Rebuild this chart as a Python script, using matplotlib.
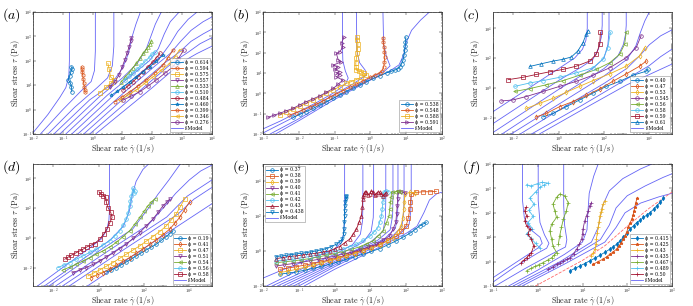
import numpy as np
import matplotlib
matplotlib.use("Agg")
import matplotlib.pyplot as plt
from matplotlib.ticker import LogLocator, NullFormatter, FixedLocator, FuncFormatter

plt.rcParams['mathtext.fontset'] = 'cm'
plt.rcParams['font.family'] = ['DejaVu Serif']

BL, OR, YE, PU, GR, CY, RE = '#0072BD', '#D95319', '#EDB120', '#7E2F8E', '#77AC30', '#4DBEEE', '#A2142F'
MODEL_COLOR = '#6464F6'

# ---------------- panel (a) ----------------
A_PHI = ['0.614', '0.594', '0.575', '0.557', '0.533', '0.510', '0.484', '0.460', '0.399', '0.346', '0.276']
A_COL = [BL, OR, YE, PU, GR, CY, RE, BL, OR, YE, PU]
A_MRK = ['o', 'h', 's', 'v', '^', 'o', 'o', '*', 'p', '<', 'o']
A_DATA = [
    [(-0.70, 0.73), (-0.71, 0.93), (-0.75, 1.10), (-0.82, 1.23), (-0.77, 1.37), (-0.73, 1.55), (-0.69, 1.68), (-0.71, 1.75)],
    [(-0.25, 0.72), (-0.27, 0.82), (-0.28, 0.91), (-0.30, 1.10), (-0.32, 1.26), (-0.33, 1.41), (-0.35, 1.56), (-0.36, 1.68), (-0.37, 1.75)],
    [(0.26, 0.70), (0.44, 0.91), (0.63, 1.10), (0.70, 1.23), (0.60, 1.34), (0.55, 1.68), (0.51, 1.89)],
    [(0.57, 0.91), (0.74, 1.14), (0.88, 1.41), (0.99, 1.75), (1.07, 2.02), (1.15, 2.30), (1.22, 2.57), (1.27, 2.81), (1.30, 2.95)],
    [(0.96, 1.14), (1.10, 1.35), (1.24, 1.55), (1.35, 1.72), (1.46, 1.89), (1.58, 2.10), (1.69, 2.30), (1.78, 2.45), (1.85, 2.57), (1.92, 2.70), (1.97, 2.81)],
    [(1.07, 1.21), (1.21, 1.36), (1.35, 1.51), (1.49, 1.66), (1.63, 1.82), (1.77, 1.99), (1.91, 2.16), (2.00, 2.27), (2.08, 2.37)],
    [(1.02, 0.80), (1.19, 0.97), (1.35, 1.14), (1.52, 1.35), (1.69, 1.55), (1.85, 1.75), (2.02, 1.96), (2.14, 2.13), (2.25, 2.30)],
    [(0.63, 0.59), (0.83, 0.76), (1.02, 0.93), (1.24, 1.13), (1.46, 1.34), (1.68, 1.55), (1.91, 1.75), (2.13, 1.99), (2.36, 2.23)],
    [(0.74, 0.32), (0.99, 0.52), (1.24, 0.73), (1.52, 0.97), (1.80, 1.21), (2.08, 1.50), (2.36, 1.82), (2.52, 2.12), (2.69, 2.43)],
    [(0.91, 0.39), (1.18, 0.59), (1.46, 0.80), (1.74, 1.07), (2.02, 1.34), (2.30, 1.61), (2.58, 1.89), (2.75, 2.17), (2.92, 2.46)],
    [(1.02, 0.39), (1.30, 0.56), (1.58, 0.73), (1.86, 0.97), (2.13, 1.21), (2.41, 1.48), (2.69, 1.75), (2.87, 2.09), (3.05, 2.43)],
]
A_MODEL = [
    [(-2.0, -0.95), (-1.5, -0.2), (-1.1, 0.5), (-0.9, 0.9), (-0.8, 1.35), (-0.78, 2.0), (-0.78, 4.0)],
    [(-1.75, -1.0), (-1.0, 0.0), (-0.4, 0.75), (-0.05, 1.15), (0.06, 1.6), (0.09, 2.4), (0.09, 4.0)],
    [(-1.5, -1.0), (-0.6, 0.1), (0.15, 0.9), (0.5, 1.3), (0.66, 1.8), (0.71, 2.6), (0.71, 4.0)],
    [(-1.3, -1.0), (-0.1, 0.4), (0.6, 1.0), (1.0, 1.7), (1.2, 2.3), (1.3, 2.9), (1.45, 3.5), (1.6, 4.0)],
    [(-1.1, -1.0), (0.2, 0.5), (1.0, 1.3), (1.5, 1.9), (1.8, 2.5), (1.95, 3.0), (2.1, 3.5), (2.3, 4.0)],
    [(-0.9, -1.0), (0.5, 0.6), (1.4, 1.5), (1.9, 2.0), (2.2, 2.5), (2.4, 3.1), (2.6, 3.6), (2.9, 4.0)],
    [(-0.7, -1.0), (0.8, 0.7), (1.8, 1.7), (2.3, 2.2), (2.6, 2.7), (2.85, 3.2), (3.2, 3.7), (3.5, 4.0)],
    [(-0.5, -1.0), (1.1, 0.75), (2.1, 1.8), (2.6, 2.3), (2.95, 2.8), (3.3, 3.25), (3.7, 3.6), (4.0, 3.8)],
    [(-0.3, -1.0), (1.4, 0.85), (2.4, 1.9), (2.9, 2.35), (3.3, 2.8), (3.7, 3.1), (4.0, 3.3)],
    [(-0.1, -1.0), (1.7, 0.9), (2.7, 1.95), (3.2, 2.35), (3.6, 2.7), (4.0, 2.95)],
    [(0.1, -1.0), (2.0, 0.9), (3.0, 1.95), (3.5, 2.3), (4.0, 2.6)],
]

# ---------------- panel (b) ----------------
B_PHI = ['0.538', '0.548', '0.588', '0.591']
B_COL = [BL, OR, YE, PU]
B_MRK = ['o', 'h', 's', '>']
B_DATA = [
    [(-2.16, -1.18), (-1.98, -1.04), (-1.79, -0.90), (-1.60, -0.74), (-1.42, -0.58), (-1.23, -0.41), (-1.04, -0.25), (-0.86, -0.09),
     (-0.67, 0.08), (-0.49, 0.24), (-0.30, 0.41), (-0.12, 0.57), (0.07, 0.73), (0.26, 0.87), (0.45, 1.01), (0.58, 1.08), (0.68, 1.14),
     (0.76, 1.21), (0.82, 1.30), (0.87, 1.45), (0.91, 1.63), (0.94, 1.88), (0.96, 2.12), (0.97, 2.33), (0.98, 2.53), (0.99, 2.77)],
    [(-2.26, -1.07), (-2.07, -0.95), (-1.88, -0.82), (-1.70, -0.68), (-1.51, -0.53), (-1.32, -0.37), (-1.14, -0.20), (-0.95, -0.03),
     (-0.77, 0.13), (-0.58, 0.29), (-0.39, 0.45), (-0.20, 0.62), (-0.02, 0.78), (0.12, 0.90), (0.26, 1.01), (0.33, 1.12), (0.37, 1.30),
     (0.39, 1.55), (0.40, 1.79), (0.39, 2.05), (0.38, 2.28), (0.36, 2.52), (0.35, 2.74)],
    [(-2.53, -1.07), (-2.35, -0.93), (-2.16, -0.79), (-1.98, -0.64), (-1.79, -0.49), (-1.60, -0.33), (-1.42, -0.17), (-1.23, 0.0),
     (-1.04, 0.16), (-0.86, 0.33), (-0.67, 0.49), (-0.53, 0.58), (-0.39, 0.68), (-0.25, 0.79), (-0.11, 0.90), (-0.18, 0.98), (-0.25, 1.06),
     (-0.33, 1.10), (-0.39, 1.14), (-0.40, 1.30), (-0.41, 1.47), (-0.39, 1.72), (-0.37, 1.96), (-0.36, 2.2), (-0.35, 2.45), (-0.37, 2.60), (-0.37, 2.77)],
    [(-2.86, -1.18), (-2.70, -1.08), (-2.53, -0.98), (-2.35, -0.86), (-2.16, -0.74), (-1.98, -0.57), (-1.79, -0.41), (-1.60, -0.27),
     (-1.42, -0.13), (-1.23, 0.05), (-1.04, 0.24), (-0.90, 0.45), (-0.77, 0.65), (-0.95, 0.81), (-0.86, 0.92), (-0.95, 1.0), (-0.86, 1.06),
     (-1.0, 1.18), (-0.9, 1.30), (-1.05, 1.38), (-0.81, 1.55), (-0.9, 1.65), (-0.95, 1.96), (-0.85, 2.05), (-0.77, 2.28), (-0.80, 2.50), (-0.74, 2.77)],
]
B_MODEL = [
    [(-3, -1.75), (-2.5, -1.35), (-2, -0.9), (-1.5, -0.45), (-1, 0.05), (-0.7, 0.45), (-0.62, 0.75), (-0.7, 1.1), (-0.77, 1.6), (-0.78, 2.3), (-0.78, 4)],
    [(-3, -1.95), (-2.5, -1.5), (-2, -1.05), (-1.5, -0.55), (-1, -0.05), (-0.5, 0.45), (-0.1, 0.9), (-0.15, 1.15), (-0.3, 1.5), (-0.38, 2.1), (-0.39, 4)],
    [(-2.8, -2), (-2, -1.25), (-1, -0.2), (0, 0.75), (0.4, 1.1), (0.55, 1.35), (0.45, 1.8), (0.37, 2.4), (0.35, 4)],
    [(-2.65, -2), (-2, -1.35), (-1, -0.3), (0, 0.65), (0.5, 1.05), (0.8, 1.4), (0.93, 1.9), (1.0, 2.5), (1.15, 3.1), (1.4, 3.6), (1.65, 4)],
]

# ---------------- panel (c) ----------------
C_PHI = ['0.40', '0.47', '0.53', '0.545', '0.56', '0.58', '0.59', '0.61']
C_COL = [BL, OR, YE, PU, GR, CY, RE, BL]
C_MRK = ['o', 'd', 'd', 'o', '<', 'o', 's', '^']
C_DATA = [
    [(-0.69, -1.95), (-0.25, -1.72), (0.34, -1.26), (0.92, -0.81), (1.51, -0.35), (2.10, 0.10), (2.69, 0.44), (3.28, 0.85), (3.86, 1.12), (3.94, 1.24)],
    [(-0.99, -1.95), (-0.55, -1.72), (0.04, -1.26), (0.63, -0.92), (1.22, -0.51), (1.81, -0.06), (2.39, 0.44), (2.98, 0.94), (3.57, 1.46), (3.86, 1.80)],
    [(-1.43, -1.38), (-0.84, -1.04), (-0.25, -0.70), (0.34, -0.29), (0.92, 0.10), (1.51, 0.49), (2.25, 0.94), (2.98, 1.46), (3.57, 2.15), (3.79, 2.71)],
    [(-2.53, -0.88), (-2.02, -0.81), (-1.43, -0.58), (-0.69, -0.24), (0.04, 0.10), (0.78, 0.44), (1.51, 0.85), (2.25, 1.35), (2.98, 2.03), (3.42, 2.71), (3.64, 3.51)],
    [(-1.94, -0.24), (-1.28, -0.05), (-0.55, 0.21), (0.19, 0.49), (0.92, 0.85), (1.66, 1.24), (2.25, 1.69), (2.69, 2.26), (2.91, 2.94), (2.98, 3.74)],
    [(-1.94, 0.10), (-1.28, 0.33), (-0.69, 0.49), (0.04, 0.71), (0.78, 1.01), (1.51, 1.35), (1.95, 1.92), (2.17, 2.71), (2.28, 3.74)],
    [(-2.24, 0.55), (-1.58, 0.71), (-0.99, 0.90), (-0.40, 1.08), (0.19, 1.24), (0.78, 1.46), (1.36, 1.80), (1.66, 2.26), (1.81, 2.94), (1.84, 3.74)],
    [(-1.28, 1.44), (-0.77, 1.62), (-0.25, 1.80), (0.19, 1.92), (0.56, 2.08), (0.85, 2.49), (1.07, 3.05), (1.22, 3.62), (1.29, 3.85)],
]
C_MODEL = [
    [(-0.85, -3.1), (1, -1.5), (3, 0.2), (5, 1.6)],
    [(-1.2, -3.1), (1, -1.2), (3, 0.6), (4, 1.5), (4.5, 2.1), (5, 2.6)],
    [(-1.7, -3.1), (0, -1.5), (2, 0.3), (3, 1.3), (3.6, 2.2), (4, 2.9), (4.5, 3.5), (5, 3.9)],
    [(-2.1, -3.1), (0, -1.1), (2, 0.8), (3, 1.9), (3.4, 2.8), (3.6, 3.7), (3.8, 4.5), (4.0, 5.1)],
    [(-2.5, -3.1), (0, -0.6), (2, 1.3), (2.6, 2.1), (2.85, 2.9), (2.95, 3.6), (2.98, 4.2), (2.98, 5.1)],
    [(-2.9, -3.0), (-2, -2.1), (0, -0.1), (1.5, 1.3), (2.0, 2.0), (2.17, 2.9), (2.22, 3.8), (2.22, 5.1)],
    [(-2.9, -2.4), (-2, -1.5), (0, 0.5), (1, 1.4), (1.5, 1.9), (1.75, 2.6), (1.88, 3.4), (1.92, 4.2), (1.92, 5.1)],
    [(-2.9, -1.6), (-2, -0.7), (-1, 0.3), (0, 1.3), (0.7, 2.0), (1.05, 2.6), (1.2, 3.2), (1.26, 4), (1.26, 5.1)],
]

# ---------------- panel (d) ----------------
D_PHI = ['0.19', '0.41', '0.47', '0.51', '0.54', '0.56', '0.58']
D_COL = [BL, OR, YE, PU, GR, CY, RE]
D_MRK = ['o', 'd', 's', 'v', '<', 'o', 's']
D_DATA = [
    [(0.34, -2.29), (0.56, -2.15), (0.78, -2.0), (1.00, -1.81), (1.22, -1.62), (1.44, -1.42), (1.66, -1.21), (1.88, -1.01), (2.10, -0.81), (2.32, -0.62), (2.54, -0.43), (2.76, -0.17), (2.98, 0.09), (3.13, 0.28), (3.28, 0.47)],
    [(-0.33, -2.67), (-0.07, -2.50), (0.19, -2.34), (0.49, -2.09), (0.78, -1.84), (1.07, -1.58), (1.36, -1.33), (1.66, -1.04), (1.95, -0.76), (2.25, -0.44), (2.54, -0.13), (2.84, 0.22), (3.13, 0.58), (3.35, 0.97), (3.57, 1.37), (3.79, 1.90), (4.01, 2.43)],
    [(-0.47, -2.56), (-0.22, -2.36), (0.04, -2.16), (0.34, -1.91), (0.63, -1.66), (0.92, -1.38), (1.22, -1.10), (1.51, -0.82), (1.81, -0.54), (2.10, -0.22), (2.39, 0.09), (2.69, 0.42), (2.98, 0.80), (3.20, 1.20), (3.42, 1.60), (3.60, 2.10), (3.79, 2.61)],
    [(-1.14, -2.34), (-0.84, -2.17), (-0.55, -2.0), (-0.25, -1.78), (0.04, -1.55), (0.34, -1.29), (0.63, -1.03), (0.92, -0.73), (1.22, -0.43), (1.51, -0.04), (1.81, 0.36), (2.10, 0.81), (2.39, 1.26), (2.62, 1.71), (2.84, 2.16), (3.0, 2.40), (3.13, 2.61)],
    [(-1.58, -2.16), (-1.28, -1.97), (-0.99, -1.78), (-0.69, -1.55), (-0.40, -1.33), (-0.11, -1.10), (0.19, -0.88), (0.49, -0.60), (0.78, -0.31), (1.07, 0.08), (1.36, 0.47), (1.59, 0.92), (1.81, 1.37), (2.0, 1.78), (2.17, 2.16), (2.32, 2.40), (2.47, 2.61)],
    [(-1.80, -2.0), (-1.54, -1.83), (-1.28, -1.66), (-0.99, -1.44), (-0.69, -1.21), (-0.40, -0.98), (-0.11, -0.76), (0.19, -0.48), (0.48, -0.20), (0.70, 0.12), (0.92, 0.47), (1.07, 0.85), (1.22, 1.26), (1.30, 1.70), (1.36, 2.16), (1.40, 2.50), (1.44, 2.83), (1.51, 3.33), (1.59, 3.17), (1.55, 3.0)],
    [(-1.50, -1.44), (-1.35, -1.30), (-1.21, -1.17), (-1.02, -1.02), (-0.84, -0.88), (-0.68, -0.75), (-0.52, -0.61), (-0.35, -0.50), (-0.18, -0.38), (0.04, -0.09), (0.22, 0.25), (0.36, 0.58), (0.48, 0.99), (0.59, 1.37), (0.53, 1.71), (0.41, 2.04), (0.34, 2.38), (0.31, 2.72), (0.20, 2.85), (0.11, 2.94), (0.01, 3.10)],
]
D_MODEL = [
    [(-0.5, -3.24), (2, -0.7), (4, 1.3), (5, 2.3)],
    [(-1.3, -3.24), (1, -0.9), (3.5, 1.6), (4.2, 2.6), (5, 3.4)],
    [(-1.6, -3.24), (1, -0.6), (3, 1.4), (3.9, 2.8), (5, 3.9)],
    [(-1.9, -3.24), (0.5, -0.8), (2.2, 0.9), (2.9, 2.1), (3.4, 3.0), (4, 3.9), (4.5, 4.5), (5, 4.9)],
    [(-2.2, -3.24), (0, -0.9), (1.5, 0.6), (2.2, 2.0), (2.6, 2.9), (3.1, 3.9), (3.6, 4.97)],
    [(-2.4, -3.24), (-1, -1.75), (0.5, -0.15), (1.1, 0.8), (1.35, 1.8), (1.5, 3.0), (1.65, 3.8), (1.95, 4.6), (2.2, 4.97)],
    [(-2.7, -3.24), (-1.5, -1.9), (-0.5, -0.8), (0.1, -0.1), (0.35, 0.5), (0.45, 1.2), (0.48, 2.0), (0.48, 4.97)],
]

# ---------------- panel (e) ----------------
E_PHI = ['0.37', '0.38', '0.39', '0.40', '0.41', '0.42', '0.43', '0.438']
E_COL = [BL, OR, YE, PU, GR, CY, RE, BL]
E_MRK = ['o', 's', 'd', 'v', '<', 'o', '^', 'v']
E_DATA = [
    [(-1.53, -1.33), (-1.30, -1.26), (-1.07, -1.2), (-0.84, -1.1), (-0.60, -1.0), (-0.37, -0.88), (-0.14, -0.76), (0.10, -0.62), (0.33, -0.48), (0.56, -0.33), (0.79, -0.19), (1.03, -0.03), (1.26, 0.13), (1.49, 0.35), (1.72, 0.57), (1.91, 0.78), (2.10, 1.0), (2.24, 1.21), (2.38, 1.43), (2.47, 1.53), (2.56, 1.62)],
    [(-1.53, -1.05), (-1.30, -0.98), (-1.07, -0.90), (-0.84, -0.81), (-0.60, -0.72), (-0.37, -0.62), (-0.14, -0.51), (0.10, -0.38), (0.33, -0.25), (0.56, -0.10), (0.79, 0.06), (1.03, 0.22), (1.26, 0.38), (1.49, 0.60), (1.72, 0.82), (1.86, 1.12), (2.0, 1.43), (2.06, 1.90), (2.10, 2.38), (2.12, 2.80), (2.14, 3.24), (2.28, 3.33), (2.47, 3.37), (2.66, 3.37), (2.84, 3.39)],
    [(-1.53, -1.24), (-1.30, -1.15), (-1.07, -1.05), (-0.84, -0.94), (-0.60, -0.82), (-0.37, -0.70), (-0.14, -0.57), (0.10, -0.43), (0.33, -0.29), (0.56, -0.15), (0.79, 0.0), (1.03, 0.16), (1.26, 0.32), (1.45, 0.54), (1.63, 0.76), (1.76, 1.10), (1.86, 1.43), (1.90, 1.90), (1.93, 2.38), (1.95, 2.80), (1.96, 3.24), (2.10, 3.33), (2.24, 3.30)],
    [(-1.63, -0.86), (-1.40, -0.79), (-1.16, -0.72), (-0.93, -0.65), (-0.70, -0.57), (-0.47, -0.49), (-0.23, -0.40), (0.0, -0.30), (0.23, -0.19), (0.47, -0.07), (0.70, 0.06), (0.94, 0.22), (1.17, 0.38), (1.36, 0.62), (1.54, 0.86), (1.63, 1.24), (1.71, 1.62), (1.73, 2.10), (1.75, 2.57), (1.76, 2.95), (1.77, 3.33), (1.86, 3.37), (1.96, 3.30)],
    [(-1.63, -0.67), (-1.40, -0.62), (-1.16, -0.57), (-0.93, -0.51), (-0.70, -0.44), (-0.47, -0.35), (-0.23, -0.25), (0.0, -0.15), (0.23, -0.04), (0.47, 0.09), (0.70, 0.23), (0.89, 0.40), (1.07, 0.57), (1.21, 0.85), (1.35, 1.14), (1.44, 1.57), (1.52, 2.0), (1.54, 2.38), (1.56, 2.76), (1.58, 3.06), (1.59, 3.37), (1.68, 3.33), (1.77, 3.43), (1.82, 3.33)],
    [(-1.63, -0.57), (-1.40, -0.53), (-1.16, -0.48), (-0.93, -0.40), (-0.70, -0.32), (-0.47, -0.23), (-0.23, -0.13), (0.0, -0.02), (0.23, 0.10), (0.42, 0.24), (0.61, 0.38), (0.80, 0.60), (0.98, 0.82), (1.10, 1.08), (1.21, 1.33), (1.26, 1.66), (1.31, 2.0), (1.33, 2.38), (1.35, 2.76), (1.36, 3.05), (1.37, 3.33), (1.43, 3.43), (1.49, 3.37)],
    [(-1.63, -0.44), (-1.45, -0.38), (-1.26, -0.32), (-1.07, -0.28), (-0.88, -0.23), (-0.70, -0.18), (-0.51, -0.13), (-0.33, -0.07), (-0.14, 0.0), (0.0, 0.12), (0.14, 0.25), (0.28, 0.46), (0.42, 0.67), (0.52, 0.95), (0.61, 1.24), (0.68, 1.62), (0.75, 2.0), (0.77, 2.48), (0.79, 2.95), (0.80, 3.10), (0.81, 3.24), (0.85, 3.37), (0.89, 3.37), (0.93, 3.20), (0.98, 3.24), (1.02, 3.40), (1.07, 3.37), (1.12, 3.18), (1.17, 3.24), (1.21, 3.36), (1.26, 3.33), (1.30, 3.22), (1.35, 3.14), (1.40, 3.25), (1.44, 3.30)],
    [(-1.63, -0.32), (-1.49, -0.29), (-1.35, -0.25), (-1.21, -0.21), (-1.07, -0.17), (-0.93, -0.14), (-0.79, -0.10), (-0.65, -0.05), (-0.51, 0.0), (-0.37, 0.06), (-0.23, 0.13), (-0.09, 0.25), (0.05, 0.38), (0.14, 0.52), (0.22, 0.67), (0.25, 0.95), (0.26, 1.24), (0.27, 1.62), (0.28, 2.0), (0.28, 2.3), (0.29, 2.57), (0.30, 2.76), (0.31, 2.95), (0.32, 3.05), (0.33, 3.14)],
]
E_MODEL = [
    [(-0.85, -2), (0, -1.05), (1.0, -0.05), (2.0, 1.0), (2.3, 1.4), (2.5, 2.2), (2.65, 2.9), (2.85, 3.25), (3.0, 3.35)],
    [(-1.0, -2), (0, -0.9), (1.0, 0.1), (1.8, 0.9), (2.08, 1.5), (2.13, 2.3), (2.14, 3.0), (2.14, 4.95)],
    [(-1.15, -2), (0, -0.8), (1.0, 0.2), (1.6, 0.8), (1.88, 1.4), (1.93, 2.2), (1.94, 3.0), (1.94, 4.95)],
    [(-1.3, -2), (0, -0.7), (1.0, 0.3), (1.4, 0.7), (1.7, 1.3), (1.76, 2.1), (1.77, 3.0), (1.77, 4.95)],
    [(-1.45, -2), (0, -0.6), (0.8, 0.2), (1.2, 0.6), (1.55, 1.2), (1.62, 2.0), (1.63, 3.0), (1.63, 4.95)],
    [(-1.6, -2), (0, -0.5), (0.7, 0.15), (1.0, 0.5), (1.35, 1.1), (1.42, 1.9), (1.43, 3.0), (1.43, 4.95)],
    [(-1.75, -2), (-1.0, -1.3), (0, -0.35), (0.8, 0.5), (1.02, 1.1), (1.08, 1.9), (1.09, 3.0), (1.09, 4.95)],
    [(-1.9, -2), (-1.0, -1.1), (0, -0.2), (0.5, 0.35), (0.72, 0.95), (0.78, 1.7), (0.79, 2.6), (0.79, 4.95)],
    [(-2.0, -1.55), (-1.5, -1.12), (-1.0, -0.72), (-0.5, -0.32), (0.0, 0.1), (0.2, 0.5), (0.26, 1.1), (0.28, 2.0), (0.28, 4.95)],
]

# ---------------- panel (f) ----------------
F_PHI = ['0.415', '0.425', '0.43', '0.435', '0.467', '0.489', '0.50']
F_COL = [BL, OR, YE, PU, GR, CY, RE]
F_MRK = ['d', '*', '+', '+', '+', '+', '+']
F_DATA = [
    [(0.72, -0.38), (0.83, -0.28), (0.94, -0.18), (1.05, -0.08), (1.16, 0.03), (1.28, 0.14), (1.39, 0.26), (1.50, 0.38), (1.61, 0.51), (1.69, 0.61), (1.76, 0.71), (1.84, 0.85), (1.91, 0.99), (1.99, 1.16), (2.06, 1.33), (2.14, 1.47), (2.21, 1.60), (2.29, 1.70), (2.36, 1.81), (2.44, 1.91), (2.51, 2.01), (2.59, 2.15), (2.66, 2.29), (2.74, 2.44), (2.81, 2.59)],
    [(1.24, -0.11), (1.35, 0.0), (1.46, 0.10), (1.54, 0.20), (1.61, 0.30), (1.69, 0.40), (1.76, 0.51), (1.82, 0.65), (1.87, 0.78), (1.91, 0.92), (1.95, 1.05), (1.99, 1.22), (2.02, 1.40), (2.06, 1.57), (2.10, 1.74), (2.13, 1.91), (2.15, 2.08), (2.17, 2.25), (2.19, 2.42), (2.22, 2.59)],
    [(1.20, 0.23), (1.24, 0.37), (1.28, 0.51), (1.30, 0.72), (1.31, 0.92), (1.33, 1.16), (1.35, 1.40), (1.37, 1.64), (1.39, 1.88), (1.41, 2.02), (1.43, 2.15), (1.46, 2.36), (1.50, 2.49)],
    [(0.23, -0.32), (0.33, -0.22), (0.42, -0.11), (0.50, -0.04), (0.57, 0.03), (0.65, 0.10), (0.72, 0.16), (0.80, 0.33), (0.87, 0.51), (0.93, 0.72), (0.98, 0.92), (1.00, 1.12), (1.01, 1.33), (1.05, 1.67), (1.09, 1.88), (1.13, 2.08), (1.16, 2.29), (1.20, 2.42)],
    [(-0.25, -0.38), (-0.15, -0.28), (-0.06, -0.2), (0.03, -0.12), (0.12, -0.04), (0.22, 0.06), (0.31, 0.16), (0.37, 0.27), (0.42, 0.37), (0.34, 0.64), (0.31, 0.92), (0.27, 1.26), (0.31, 1.53), (0.42, 1.81), (0.38, 2.08), (0.34, 2.36), (0.42, 2.63), (0.49, 2.77), (0.60, 2.70), (0.68, 2.42), (0.64, 2.08), (0.57, 1.74), (0.53, 1.40), (0.49, 1.06), (0.46, 0.71)],
    [(0.05, 0.55), (-0.05, 0.75), (-0.15, 0.95), (-0.25, 1.15), (-0.12, 1.35), (-0.22, 1.6), (-0.10, 1.85), (-0.2, 2.1), (-0.08, 2.35), (-0.18, 2.6), (-0.05, 2.85), (0.05, 3.05), (0.15, 3.15), (0.22, 3.22), (0.10, 3.25), (0.0, 3.2), (-0.15, 3.1), (-0.25, 3.15)],
    [(-0.37, -0.04), (-0.31, 0.06), (-0.25, 0.16), (-0.19, 0.27), (-0.14, 0.37), (-0.09, 0.64), (-0.14, 0.92), (-0.22, 1.12), (-0.18, 1.33), (-0.25, 1.47), (-0.29, 1.67), (-0.25, 1.88), (-0.29, 2.08), (-0.27, 2.22)],
]
F_MODEL = [
    [(-0.35, -1), (0.6, -0.1), (1.5, 0.8), (1.75, 1.4), (1.95, 2.0), (2.3, 2.4), (2.7, 2.65), (3, 2.8)],
    [(-0.45, -1), (0.5, -0.1), (1.4, 0.9), (1.6, 1.5), (1.75, 2.2), (2.0, 2.7), (2.4, 3.1), (2.8, 3.45), (3, 3.6)],
    [(-0.55, -1), (0.5, 0.0), (1.2, 0.8), (1.35, 1.4), (1.45, 2.3), (1.6, 2.9), (1.9, 3.4), (2.3, 3.8), (2.55, 4)],
    [(-0.65, -1), (0, -0.35), (0.6, 0.3), (1.0, 0.8), (1.1, 1.3), (1.12, 2.0), (1.15, 2.8), (1.25, 3.5), (1.35, 4)],
    [(-0.95, -1), (-0.3, -0.3), (0.3, 0.3), (0.62, 0.6), (0.65, 0.9), (0.6, 1.5), (0.58, 2.3), (0.58, 4)],
    [(-1, -0.84), (-0.5, -0.2), (0, 0.35), (0.2, 0.55), (0.25, 0.75), (0.15, 1.1), (0.05, 1.6), (0.01, 2.5), (0.01, 4)],
    [(-1, -0.66), (-0.5, -0.05), (0, 0.55), (0.1, 0.75), (0.05, 1.0), (-0.15, 1.3), (-0.3, 1.8), (-0.34, 2.5), (-0.34, 4)],
]
F_NEWTON = [(-0.05, -1), (0.5, -0.45), (1.0, 0.05), (1.5, 0.65), (2.0, 1.45), (2.5, 2.2), (3.0, 2.85)]

# ---------------- layout ----------------
W, H = 693, 306
COL_X = [33, 263, 493]
ROW_Y = [12, 164]
AX_W, AX_H = 179, 122

PANELS = [
    ('a', 0, 0, (-2, 4), (-1, 4), range(-2, 5), range(-1, 5), A_PHI, A_COL, A_MRK, A_DATA, A_MODEL, 'lower right'),
    ('b', 0, 1, (-3, 2), (-2, 4), range(-3, 3), range(-2, 5), B_PHI, B_COL, B_MRK, B_DATA, B_MODEL, 'lower right'),
    ('c', 0, 2, (-2.9, 5), (-3.1, 5.1), [-2, 0, 2, 4], [-2, 0, 2, 4], C_PHI, C_COL, C_MRK, C_DATA, C_MODEL, 'lower right'),
    ('d', 1, 0, (-2.9, 5), (-3.24, 4.97), [-2, 0, 2, 4], [-2, 0, 2, 4], D_PHI, D_COL, D_MRK, D_DATA, D_MODEL, 'lower right'),
    ('e', 1, 1, (-2, 3), (-2, 4.95), range(-2, 4), [-2, 0, 2, 4], E_PHI, E_COL, E_MRK, E_DATA, E_MODEL, 'upper left'),
    ('f', 1, 2, (-1, 3), (-1, 4), range(-1, 4), range(-1, 5), F_PHI, F_COL, F_MRK, F_DATA, F_MODEL, 'lower right'),
]

fig = plt.figure(figsize=(W / 100, H / 100), dpi=100)
TXT = '#262626'

def pw(v, p):
    return r"$10^{%d}$" % int(round(np.log10(v)))

for (lab, r, c, xl, yl, xt, yt, phis, cols, mrks, data, model, loc) in PANELS:
    left = COL_X[c] / W
    bottom = 1 - (ROW_Y[r] + AX_H) / H
    ax = fig.add_axes([left, bottom, AX_W / W, AX_H / H])
    ax.set_xscale('log')
    ax.set_yscale('log')
    handles = []
    for phi, col, mk, pts in zip(phis, cols, mrks, data):
        arr = np.array(pts)
        filled = mk in ('*', '+', 'd') and lab == 'f'
        h, = ax.plot(10 ** arr[:, 0], 10 ** arr[:, 1], '-', color=col, marker=mk, ms=2.6 if lab != 'f' else 2.2,
                     mfc=col if filled else 'none', mec=col, mew=0.5, lw=0.6, zorder=3,
                     label="\u03d5 = %s" % phi)
        handles.append(h)
    for k, pts in enumerate(model):
        arr = np.array(pts)
        hm, = ax.plot(10 ** arr[:, 0], 10 ** arr[:, 1], '-', color=MODEL_COLOR, lw=0.6, zorder=2,
                      label="f-Model")
    if lab == 'f':
        arr = np.array(F_NEWTON)
        ax.plot(10 ** arr[:, 0], 10 ** arr[:, 1], '--', color='#FF6A6A', lw=0.6, zorder=2)
    handles.append(hm)
    ax.set_xlim(10 ** xl[0], 10 ** xl[1])
    ax.set_ylim(10 ** yl[0], 10 ** yl[1])
    ax.xaxis.set_major_locator(FixedLocator([10.0 ** t for t in xt]))
    ax.yaxis.set_major_locator(FixedLocator([10.0 ** t for t in yt]))
    ax.xaxis.set_major_formatter(FuncFormatter(pw))
    ax.yaxis.set_major_formatter(FuncFormatter(pw))
    for axis in (ax.xaxis, ax.yaxis):
        axis.set_minor_locator(LogLocator(base=10, subs=np.arange(2, 10), numticks=60))
        axis.set_minor_formatter(NullFormatter())
    ax.tick_params(which='both', direction='in', top=True, right=True, labelsize=3.2,
                   width=0.35, colors=TXT, pad=0.4)
    ax.tick_params(which='major', length=2.0)
    ax.tick_params(which='minor', length=1.0)
    for s in ax.spines.values():
        s.set_linewidth(0.5)
        s.set_color(TXT)
    ax.set_ylabel(r"$\mathrm{Shear\ stress}\ \tau\ \mathrm{(Pa)}$", fontsize=5.9, color=TXT)
    ax.set_xlabel(r"$\mathrm{Shear\ rate}\ \dot{\gamma}\ \mathrm{(1/s)}$", fontsize=5.8, color=TXT)
    ax.yaxis.set_label_coords(-17.0 / AX_W, 0.5)
    ax.yaxis.label.set_va('center')
    ax.xaxis.set_label_coords(0.5, -14.5 / AX_H)
    ax.xaxis.label.set_va('center')
    leg = ax.legend(handles=handles, loc=loc, prop={'family': 'DejaVu Serif', 'size': 3.4},
                    labelspacing=0.22, handlelength=2.6,
                    handleheight=0.5, handletextpad=0.4, borderpad=0.3, borderaxespad=0.35,
                    frameon=True, fancybox=False)
    leg.get_frame().set_linewidth(0.4)
    leg.get_frame().set_edgecolor('#777777')
    fig.text((COL_X[c] - 31) / W, 1 - (ROW_Y[r] + 3) / H, r"$(%s)$" % lab, fontsize=10, ha='left', va='center')

fig.savefig('out.png', dpi=100)
